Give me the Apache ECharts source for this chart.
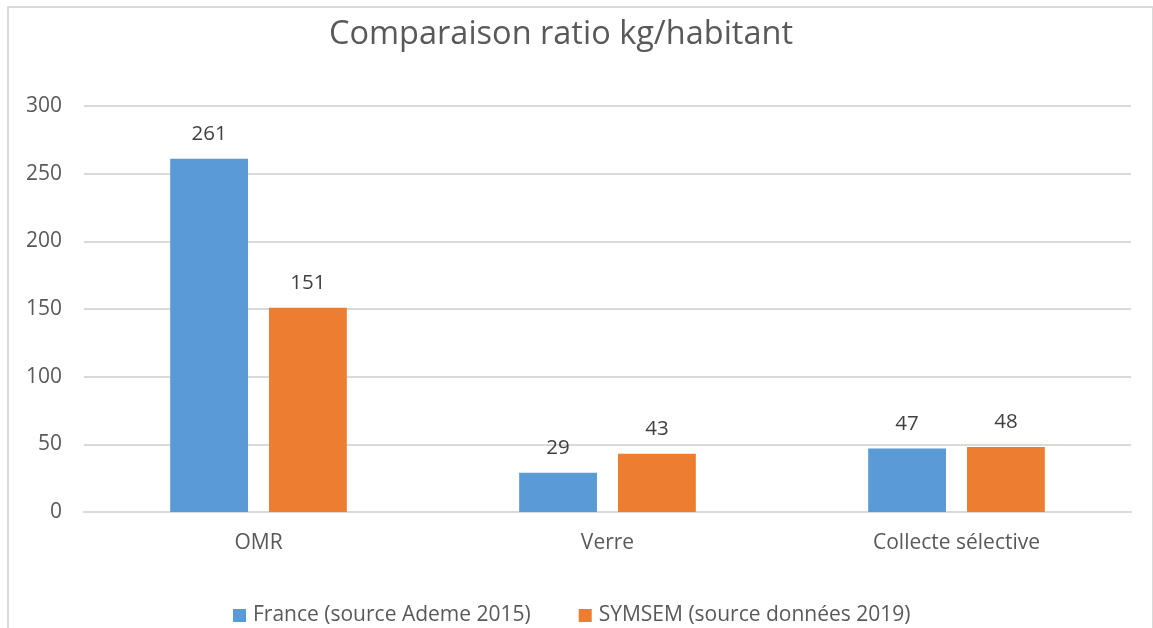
<!DOCTYPE html>
<html>
<head>
<meta charset="utf-8">
<script src="https://cdn.jsdelivr.net/npm/echarts@6/dist/echarts.min.js"></script>
<style>
  html, body { margin: 0; padding: 0; background: #fff; overflow: hidden; }
  #frame { position: absolute; left: 7px; top: 6px; width: 1143px; height: 660px; border: 2px solid #d9d9d9; }
  #main { position: absolute; left: 0; top: 0; width: 1153px; height: 628px; }
</style>
</head>
<body>
<div id="frame"></div>
<div id="main"></div>
<script>
// categories et valeurs
var categories = ['OMR', 'Verre', 'Collecte sélective'];
var franceData = [261, 29, 47];
var symsemData = [151, 43, 48];
var seriesNames = ['France (source Ademe 2015)', 'SYMSEM (source données 2019)'];

var textColor = '#595959';
var font = '"Open Sans", "Noto Sans", sans-serif';

var myChart = echarts.init(document.getElementById('main'));
var option = {
    animation: false,
    textStyle: { fontFamily: font },
    title: {
        text: 'Comparaison ratio kg/habitant',
        left: 324,
        top: 13,
        textStyle: { color: textColor, fontSize: 32.5, fontWeight: 'normal', fontFamily: font }
    },
    legend: {
        data: seriesNames,
        top: 600,
        left: 228,
        itemWidth: 13,
        itemHeight: 13,
        itemGap: 48,
        icon: 'rect',
        textStyle: { color: textColor, fontSize: 21, fontFamily: font, padding: [0, 0, 0, 2] }
    },
    grid: { left: 84, right: 22, top: 106, bottom: 116, containLabel: false },
    xAxis: {
        type: 'category',
        data: categories,
        axisLine: { lineStyle: { color: '#d9d9d9', width: 2 } },
        axisTick: { show: false },
        axisLabel: { color: textColor, fontSize: 21, margin: 21, fontFamily: font }
    },
    yAxis: {
        type: 'value',
        min: 0,
        max: 300,
        interval: 50,
        axisLine: { show: false },
        axisTick: { show: false },
        axisLabel: { color: textColor, fontSize: 21, margin: 22, fontFamily: font },
        splitLine: { lineStyle: { color: '#d9d9d9', width: 2 } }
    },
    series: [{
        name: seriesNames[0],
        type: 'bar',
        data: franceData,
        barWidth: '22.3%',
        barGap: '27%',
        itemStyle: { color: '#5b9bd5' },
        label: { show: true, position: 'top', distance: 14, color: '#404040', fontSize: 20.5, fontFamily: font }
    }, {
        name: seriesNames[1],
        type: 'bar',
        data: symsemData,
        barWidth: '22.3%',
        itemStyle: { color: '#ed7d31' },
        label: { show: true, position: 'top', distance: 14, color: '#404040', fontSize: 20.5, fontFamily: font }
    }]
};
myChart.setOption(option);
</script>
</body>
</html>
